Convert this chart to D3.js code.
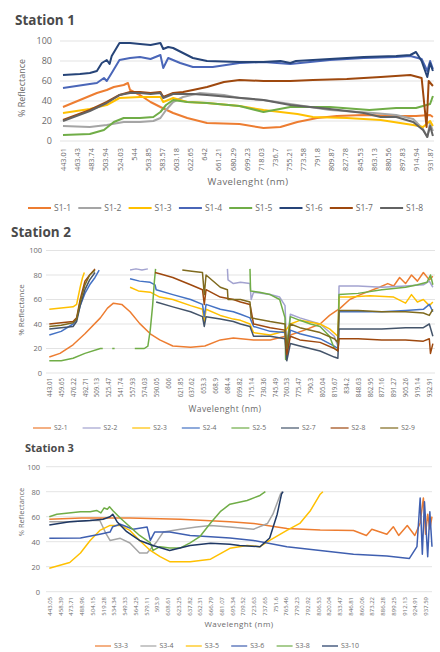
<!DOCTYPE html>
<html>
<head>
<meta charset="utf-8">
<script src="https://cdn.jsdelivr.net/npm/d3@7"></script>
<style>
  body { margin: 0; background: #fff; }
  svg { display: block; font-family: "Open Sans", "Liberation Sans", sans-serif; }
</style>
</head>
<body>
<svg id="chart" width="440" height="652"></svg>
<script>
// ---- tick labels (wavelength, nm) ----
var st1Ticks = ["443.01","463.43","483.74","503.94","524.03","544","563.85","583.57","603.18","622.65","642","661.21","680.29","699.23","718.03","736.7","755.21","773.58","791.8","809.87","827.78","845.53","863.13","880.56","897.83","914.94","931.87"];
var st2Ticks = ["443.01","459.65","476.22","492.71","509.13","525.47","541.74","557.93","574.03","590.05","606","621.85","637.62","653.3","668.9","684.4","699.82","715.14","730.36","745.49","760.53","775.47","790.3","805.04","819.67","834.2","848.63","862.95","877.16","891.27","905.26","919.14","932.91"];
var st3Ticks = ["443.05","458.39","473.71","488.96","504.15","519.28","534.34","549.33","564.25","579.11","593.9","608.61","623.25","637.82","652.31","666.79","681.07","695.34","709.52","723.63","737.65","751.6","765.46","779.23","792.92","806.53","820.04","833.47","846.81","860.06","873.22","886.28","899.25","912.13","924.91","937.59"];
var yTicks = [0, 20, 40, 60, 80, 100];

// ---- Station 1 series: [band position, % reflectance] ----
var s1_1 = [[0,34],[1.2,41],[2.4,48],[3.1,51],[3.6,54],[4.3,56],[4.6,58],[4.75,51],[5.45,46],[6.2,39],[6.9,34],[7.8,28],[8.8,23],[10.2,18],[12.5,17],[14.2,13],[15.4,14],[16.6,19],[18,23],[19.4,25],[21.3,26],[23.6,25],[25,25],[26,26],[26.2,24]];
var s1_2 = [[0,15],[1.9,14],[3.1,16],[4.3,19],[5.45,19],[6.4,20],[6.9,23],[7.3,31],[7.8,39],[8.5,44],[9.7,48],[11.4,46],[12.5,43],[14.2,41],[16.1,37],[18.9,31],[22,28],[23.6,26],[24.8,22],[25.5,12],[25.8,4],[26,18],[26.2,10]];
var s1_3 = [[0,28],[1.9,32],[3.1,36],[4,43],[5.45,44],[6.9,44],[7.1,39],[7.8,43],[8.8,39],[10.2,38],[12.5,35],[14.2,31],[16.6,27],[17.7,24],[20.1,23],[22.5,21],[24.8,16],[25.5,14],[26,20],[26.2,15]];
var s1_4 = [[0,53],[1.9,57],[2.4,58],[2.9,63],[3.1,60],[3.45,68],[4,81],[4.75,83],[5.45,84],[6.2,82],[6.9,86],[7.1,73],[7.45,83],[8.3,78],[9.2,74],[10.6,74],[12.5,78],[14.2,79],[16.1,77],[18.9,81],[21.3,83],[23.6,84],[24.6,85],[25.4,82],[25.8,70],[26,80],[26.2,72]];
var s1_5 = [[0,6],[1.9,7],[2.9,11],[3.6,19],[4.3,23],[5.45,23],[6.4,24],[6.9,29],[7.3,36],[7.8,41],[8.8,39],[10.2,38],[12.5,35],[14.2,29],[16.1,34],[18.9,34],[21.7,31],[23.6,33],[25,33],[26,37],[26.2,45]];
var s1_6 = [[0,66],[1.2,67],[1.9,68],[2.4,70],[2.75,78],[3.1,81],[3.3,77],[3.45,85],[4,98],[4.75,98],[5.45,97],[6.2,96],[6.9,98],[7.1,92],[7.45,94],[7.8,93],[8.5,88],[9.2,83],[10.2,80],[12.5,79],[14.2,79],[15.4,80],[16.1,78],[16.5,80],[18.9,82],[21.3,84],[23.6,85],[24.6,86],[25,89],[25.4,80],[25.8,64],[26,78],[26.2,70]];
var s1_7 = [[0,21],[1.9,31],[3.1,39],[4,46],[4.75,49],[5.45,49],[6.2,48],[6.9,49],[7.1,44],[7.8,48],[8.5,49],[9.2,51],[10.2,54],[11.4,59],[12.5,61],[14.2,60],[16.1,60],[17.7,61],[20.1,62],[22.5,64],[24.6,66],[25.4,63],[25.75,14],[25.9,60],[26.2,55]];
var s1_8 = [[0,20],[1.9,30],[3.1,38],[4,46],[4.75,48],[5.45,48],[6.2,47],[6.9,48],[7.1,43],[7.8,47],[9.2,47],[10.2,46],[11.8,44],[14.2,41],[16.1,36],[18.9,32],[21.3,28],[22.5,24],[23.6,24],[24.8,19],[25.5,11],[25.8,4],[26,15],[26.2,5]];

// ---- Station 2 series (null = off scale) ----
var s2_1 = [[0,13],[0.9,16],[2,23],[3,32],[4.3,45],[4.9,53],[5.4,57],[6.1,56],[6.8,50],[7.6,40.5],[8.5,32],[9.3,27],[10.4,22],[11.9,21],[13.1,22],[14.4,27],[15.5,28.5],[17.2,27],[18.6,27],[20.3,31],[21.5,35],[22.8,40],[23.6,47],[24.5,53],[25.3,60],[26.2,64],[27.8,70],[28.5,73],[29,71],[29.5,78],[30,73],[30.5,80],[31,75],[31.5,82],[32,76],[32.3,79]];
var s2_2 = [[6.8,84],[7.3,85],[7.8,84],[8.3,85],[8.4,null],[15,85],[15.05,76],[15.5,73],[16.1,74],[16.9,73],[17,60],[17.2,66],[18.6,64],[19.4,62],[19.85,55],[20,20],[20.3,48],[21.1,45],[22.8,40],[24,30],[24.3,22],[24.4,71],[26,71],[28,70],[30,71],[31.5,72],[32,75],[32.3,70]];
var s2_3 = [[0,52],[1,53],[2,54],[2.3,56],[2.6,70],[2.8,78],[2.95,82],[3,null],[6.8,70],[7.5,67],[8.5,66],[8.9,64],[9.3,62],[10.4,60],[11.9,55],[12.9,52],[13.05,42],[13.2,52],[14.4,47],[15.5,44],[16.1,43],[16.9,40],[17.2,33],[18.6,31],[19.4,33],[19.85,34],[20.3,40],[21.1,43],[22.8,40],[23.6,36],[24.3,30],[24.4,62],[25.3,62],[27,63],[29,62],[30,57],[30.5,64],[31,58],[31.5,60],[32,55],[32.3,58]];
var s2_4 = [[0,31],[1,34],[2,40],[2.3,44],[2.6,55],[3,65],[3.4,72],[3.85,78],[4.2,84],[4.3,null],[6.8,77],[7.6,75],[8.5,74],[8.9,72],[9,68],[10.4,64],[11.9,60],[12.9,56],[13.05,46],[13.2,56],[14.4,52],[15.5,50],[16.1,48],[16.9,45],[17.2,38],[18.6,34],[19.85,33],[20,12],[20.3,35],[21.1,32],[22.8,28],[24,22],[24.3,20],[24.4,50],[26,50],[28,50],[30,51],[31.5,52],[32,56],[32.3,50]];
var s2_5 = [[0,10],[1,10],[2,12],[3,16],[4.3,20],[4.5,20],[4.6,null],[5.3,20],[5.5,20],[5.6,null],[7.2,20],[8,20],[8.3,22],[8.5,35],[8.7,55],[8.85,75],[8.95,85],[9,null],[16.9,85],[16.95,67],[17.7,66],[18.6,64],[19.4,60],[19.85,45],[19.9,11],[20.1,30],[20.3,46],[21.1,43],[22,40],[22.8,38],[23.6,30],[24,20],[24.3,18],[24.4,64],[26,65],[28,68],[30,70],[31,72],[31.8,74],[32.1,80],[32.3,72]];
var s2_7 = [[0,36],[1,37],[2,38],[2.3,42],[2.6,55],[3,68],[3.4,76],[3.85,82],[4,null],[9,58],[10.4,54],[11.9,50],[12.9,46],[13.05,38],[13.2,46],[14.4,44],[15.5,42],[16.1,40],[16.9,38],[17.2,30],[18.6,30],[19.85,28],[20,10],[20.3,24],[21.1,22],[22.8,18],[24,13],[24.3,12],[24.4,36],[26,36],[28,36],[30,37],[31.5,37],[32,40],[32.3,30]];
var s2_8 = [[0,40],[1,41],[2,42],[2.3,45],[2.6,60],[3,75],[3.4,80],[3.85,85],[4,null],[8.9,82],[9.3,81],[10.4,78],[11.9,72],[12.9,68],[13.05,56],[13.2,68],[14.4,62],[15.5,60],[16.1,58],[16.9,56],[17.2,40],[18.6,37],[19.85,35],[20,15],[20.3,30],[21.1,27],[22.8,25],[24,20],[24.3,18],[24.4,28],[26,28],[28,27],[30,27],[31.5,26],[32,28],[32.1,16],[32.3,24]];
var s2_9 = [[0,38],[1,39],[2,41],[2.3,44],[2.6,58],[3,72],[3.4,80],[3.85,84],[4,null],[11.2,84],[12,83],[12.9,82],[13.05,64],[13.2,80],[14.4,70],[15,68],[15.05,60],[16.1,60],[16.9,58],[17,45],[18.6,42],[19.85,40],[20,20],[20.3,40],[21.1,37],[22.8,33],[24,28],[24.3,25],[24.4,51],[26,51],[28,50],[30,50],[31.5,49],[32,47],[32.3,52]];

// ---- Station 3 series ----
var s3_3 = [[0,58],[3,59],[7.5,59],[12.2,58],[16.8,56],[19,54.6],[22.1,50.6],[25.2,49.4],[28.3,49],[29.5,45],[30,50],[31.4,46],[32,52],[32.5,45],[33.3,53],[34,45],[34.5,55],[34.8,75],[35,46],[35.2,62],[35.4,50],[35.6,60]];
var s3_4 = [[0,56],[1.9,56],[3.8,57],[4.7,57],[5.3,46],[5.65,41],[6.6,42.7],[7.5,39],[8.4,31],[9.1,31],[10,40],[10.6,47.7],[12.2,50],[13.7,51.7],[15,53],[16.8,51.7],[19,50],[20.3,54.6],[20.8,62],[21.5,78],[21.65,80]];
var s3_5 = [[0,18.7],[1.9,23.4],[2.9,31],[3.8,41],[4.7,49],[5.65,53],[6.6,53],[7.5,49],[8.4,41],[9.4,33],[10.3,28],[11.2,24],[13.1,23.9],[15,26],[16.8,34.7],[18.4,37],[19.6,36],[20.5,41],[22.1,49],[23.3,54.6],[24.3,65],[25.2,78],[25.45,80]];
var s3_6 = [[0,42.7],[2.9,43],[4.7,46],[5.65,47.7],[5.9,52],[6.6,54],[7.8,50],[9.1,51.7],[9.4,41],[9.8,47.7],[11.2,47.7],[13.1,45],[15,44],[16.8,43],[19,41],[22.1,36],[25.2,33],[28.3,30],[31.4,28.5],[33.5,26.6],[34.2,36],[34.5,75],[34.7,30],[34.9,72],[35.2,28],[35.4,64],[35.6,36]];
var s3_8 = [[0,60],[0.7,62],[2.9,64],[3.8,64],[4.4,65],[4.8,63],[5.1,67],[5.4,66],[5.6,68],[5.9,65],[6.6,59],[7.5,52],[8.4,45],[9.4,39],[9.65,33],[10.3,36],[11.2,35],[12.2,35],[13.1,39],[14,44],[15,55],[15.9,64],[16.8,70],[18.4,73],[19.6,77],[20.1,80]];
var s3_10 = [[0,53.3],[1.9,56],[3.8,57],[5,58],[5.65,60],[5.9,62],[6.3,56],[7.2,48],[8.4,41],[9.65,37],[11.2,33],[13.1,37],[15,38.7],[16.8,38],[17.7,37],[19.6,36],[20.5,43],[21.2,62],[21.6,78],[21.75,80]];

var svg = d3.select('#chart');
var textColor = '#6b6b6b';

var panels = [
  { title: 'Station 1', titleX: 15, titleY: 25, titleSize: 13.5,
    ticks: st1Ticks, x0: 63, x1: 430.1, gx0: 60, gx1: 434, y0: 141, y1: 41,
    yLabX: 52, yLabSize: 9, xLabTop: 148, xLabSize: 7.4,
    yTitleX: 22, yTitleY: 88, yTitleSize: 9,
    xTitleX: 248, xTitleY: 185, xTitleSize: 9.5,
    width: 2, legY: 208, legX0: 53, legStep: 50.3, legLine: 23, legSize: 8.5, legOpacity: 1,
    series: [
      {name: 'S1-1', color: '#ed7d31', data: s1_1},
      {name: 'S1-2', color: '#a5a5a5', data: s1_2},
      {name: 'S1-3', color: '#ffc000', data: s1_3},
      {name: 'S1-4', color: '#4a66b8', data: s1_4},
      {name: 'S1-5', color: '#70ad47', data: s1_5},
      {name: 'S1-6', color: '#264478', data: s1_6},
      {name: 'S1-7', color: '#9e480e', data: s1_7},
      {name: 'S1-8', color: '#636363', data: s1_8}
    ] },
  { title: 'Station 2', titleX: 11, titleY: 237, titleSize: 13.5,
    ticks: st2Ticks, x0: 49.3, x1: 429.3, gx0: 46, gx1: 435, y0: 373, y1: 250.5,
    yLabX: 42, yLabSize: 7.5, xLabTop: 378, xLabSize: 6.2,
    yTitleX: 21, yTitleY: 310, yTitleSize: 8,
    xTitleX: 225, xTitleY: 412, xTitleSize: 8.5,
    width: 1.5, legY: 428, legX0: 53, legStep: 49.6, legLine: 18, legSize: 6.8, legOpacity: 0.6,
    series: [
      {name: 'S2-1', color: '#ed7d31', data: s2_1},
      {name: 'S2-2', color: '#a3a3d0', data: s2_2},
      {name: 'S2-3', color: '#ffc000', data: s2_3},
      {name: 'S2-4', color: '#4472c4', data: s2_4},
      {name: 'S2-5', color: '#70ad47', data: s2_5},
      {name: 'S2-7', color: '#44546a', data: s2_7},
      {name: 'S2-8', color: '#9e480e', data: s2_8},
      {name: 'S2-9', color: '#7f6a1e', data: s2_9}
    ] },
  { title: 'Station 3', titleX: 25, titleY: 452, titleSize: 11,
    ticks: st3Ticks, x0: 49.3, x1: 425.55, gx0: 46, gx1: 432, y0: 591.7, y1: 466.7,
    yLabX: 40, yLabSize: 7.5, xLabTop: 597, xLabSize: 6,
    yTitleX: 21, yTitleY: 512, yTitleSize: 7.5,
    xTitleX: 239, xTitleY: 627, xTitleSize: 8,
    width: 1.5, legY: 646, legX0: 113, legStep: 45.4, legLine: 16, legSize: 7, legOpacity: 0.6,
    series: [
      {name: 'S3-3', color: '#ed7d31', data: s3_3},
      {name: 'S3-4', color: '#a5a5a5', data: s3_4},
      {name: 'S3-5', color: '#ffc000', data: s3_5},
      {name: 'S3-6', color: '#3f5fb0', data: s3_6},
      {name: 'S3-8', color: '#70ad47', data: s3_8},
      {name: 'S3-10', color: '#1f3864', data: s3_10}
    ] }
];

function drawPanel(p) {
  var g = svg.append('g');
  var x = d3.scaleLinear().domain([0, p.ticks.length - 1]).range([p.x0, p.x1]);
  var y = d3.scaleLinear().domain([0, 100]).range([p.y0, p.y1]);

  g.append('text')
    .attr('x', p.titleX).attr('y', p.titleY)
    .style('font-size', p.titleSize + 'px').style('font-weight', 'bold')
    .style('fill', '#4a4a4a')
    .text(p.title);

  // horizontal gridlines
  g.selectAll('line.grid').data(yTicks)
    .enter().append('line')
      .attr('class', 'grid')
      .attr('x1', p.gx0).attr('x2', p.gx1)
      .attr('y1', function(d) { return y(d); })
      .attr('y2', function(d) { return y(d); })
      .style('stroke', '#dcdcdc').style('stroke-width', 0.8);

  // y axis labels
  var ya = g.append('g')
    .attr('transform', 'translate(' + p.yLabX + ',0)')
    .call(d3.axisLeft(y).tickValues(yTicks).tickSize(0).tickPadding(0));
  ya.select('.domain').remove();
  ya.selectAll('text').style('font-size', p.yLabSize + 'px').style('fill', textColor)
    .style('font-family', '"Open Sans", sans-serif');

  // x axis: band labels, rotated
  var xa = g.append('g')
    .attr('transform', 'translate(0,' + p.xLabTop + ')')
    .call(d3.axisBottom(x).tickValues(d3.range(p.ticks.length))
      .tickFormat(function(i) { return p.ticks[i]; }).tickSize(0));
  xa.select('.domain').remove();
  xa.selectAll('text')
    .attr('transform', 'rotate(-90)')
    .attr('x', 0).attr('y', 0).attr('dy', '0.35em')
    .attr('text-anchor', 'end')
    .style('font-size', p.xLabSize + 'px').style('fill', textColor)
    .style('font-family', '"Open Sans", sans-serif');

  g.append('text')
    .attr('transform', 'translate(' + p.yTitleX + ',' + p.yTitleY + ') rotate(-90)')
    .attr('text-anchor', 'middle').attr('dy', '0.35em')
    .style('font-size', p.yTitleSize + 'px').style('fill', textColor)
    .text('% Reflectance');

  g.append('text')
    .attr('x', p.xTitleX).attr('y', p.xTitleY)
    .attr('text-anchor', 'middle')
    .style('font-size', p.xTitleSize + 'px').style('fill', textColor)
    .style('letter-spacing', '0.4px')
    .text('Wavelenght (nm)');

  var line = d3.line()
    .defined(function(d) { return d[1] != null; })
    .x(function(d) { return x(d[0]); })
    .y(function(d) { return y(d[1]); });

  g.selectAll('path.series').data(p.series)
    .enter().append('path')
      .attr('class', 'series')
      .attr('d', function(d) { return line(d.data); })
      .style('fill', 'none')
      .style('stroke', function(d) { return d.color; })
      .style('stroke-width', p.width)
      .style('stroke-linejoin', 'round');

  // legend
  var leg = g.selectAll('g.leg').data(p.series)
    .enter().append('g')
      .attr('class', 'leg')
      .attr('transform', function(d, i) { return 'translate(' + (p.legX0 + i * p.legStep) + ',' + p.legY + ')'; });
  leg.append('line')
    .attr('x1', -p.legLine - 2).attr('x2', -2)
    .style('stroke', function(d) { return d.color; })
    .style('stroke-width', 2)
    .style('opacity', p.legOpacity);
  leg.append('text')
    .attr('x', 1).attr('dy', '0.35em')
    .style('font-size', p.legSize + 'px').style('fill', textColor)
    .text(function(d) { return d.name; });
}

panels.forEach(drawPanel);
</script>
</body>
</html>
